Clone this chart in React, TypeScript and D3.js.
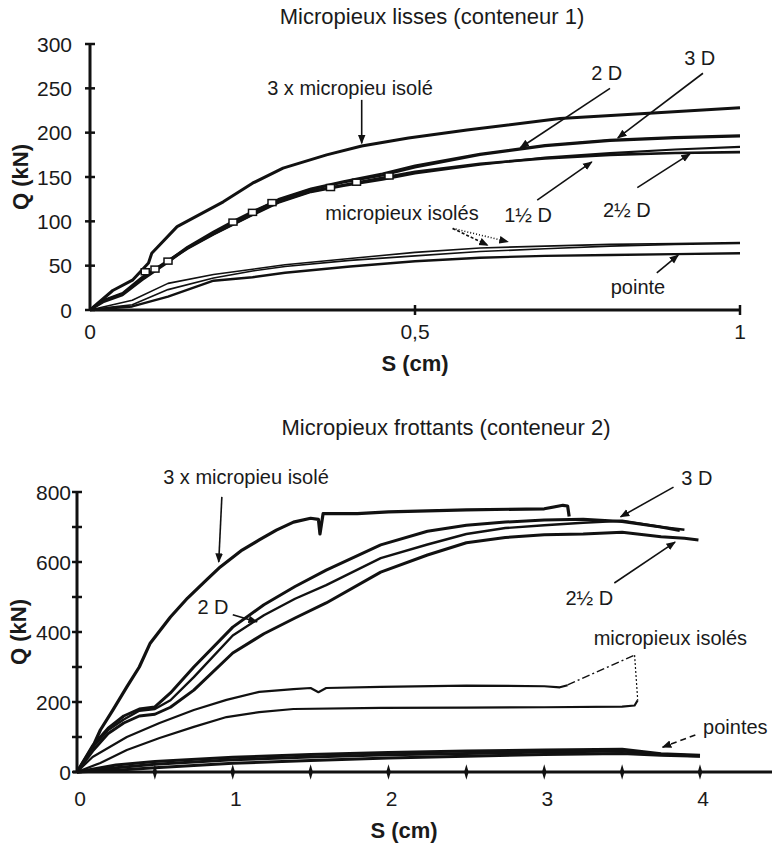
import * as d3 from "d3";
import React from "react";

// ---------- Top chart : Micropieux lisses (conteneur 1) ----------
const topYTicks = [0, 50, 100, 150, 200, 250, 300];
const topXTicks = [0, 0.5, 1];
const topXTickLabels = ["0", "0,5", "1"];

const top3xS = [0, 0.035, 0.066, 0.09, 0.095, 0.134, 0.205, 0.25, 0.297, 0.364, 0.418, 0.49, 0.58, 0.723, 0.86, 1.0];
const top3xQ = [0, 22, 34, 53, 64, 94, 122, 143, 160, 175, 185, 194, 203, 216, 222, 228];

const topGroupS = [0, 0.02, 0.05, 0.08, 0.12, 0.15, 0.19, 0.22, 0.25, 0.29, 0.34, 0.39, 0.45, 0.5, 0.6, 0.7, 0.8, 0.9, 1.0];
const top2DQ = [0, 10, 18, 35, 55, 71, 88, 100, 111, 124, 136, 144, 152, 161, 175, 185, 191, 194, 196];
const top3DQ = [0, 11, 19, 37, 56, 70, 87, 98, 110, 125, 137, 145, 154, 163, 176, 186, 192, 195, 197];
const top1halfQ = [0, 10, 18, 36, 55, 69, 85, 96, 107, 121, 133, 140, 147, 154, 164, 172, 177, 181, 184];
const top2halfQ = [0, 9, 17, 34, 54, 70, 86, 97, 108, 122, 134, 141, 149, 156, 165, 171, 175, 177, 178];

const topLowS = [0, 0.03, 0.065, 0.12, 0.19, 0.25, 0.3, 0.4, 0.5, 0.6, 0.7, 0.8, 0.9, 1.0];
const topIsoleAQ = [0, 5, 11, 30, 40, 46, 51, 58, 65, 70, 72, 74, 75, 76];
const topIsoleBQ = [0, 3, 6, 23, 36, 44, 49, 56, 61, 66, 69, 72, 74, 75];
const topPointeQ = [0, 2, 4, 15, 33, 37, 42, 49, 55, 59, 61, 62, 63, 64];

// small unloading loops seen on the group curves
const topLoopS = [0.085, 0.1, 0.12, 0.22, 0.25, 0.28, 0.37, 0.41, 0.46];
const topLoopQ = [42, 45, 54, 98, 109, 120, 137, 143, 150];

// ---------- Bottom chart : Micropieux frottants (conteneur 2) ----------
const botYTicks = [0, 200, 400, 600, 800];
const botYMinor = [100, 300, 500, 700];
const botXTicks = [0, 1, 2, 3, 4];
const botXMarks = [0.5, 1, 1.5, 2, 2.5, 3, 3.5, 4];

const bot3xS = [0, 0.1, 0.15, 0.23, 0.32, 0.4, 0.47, 0.6, 0.71, 0.83, 0.92, 1.06, 1.17, 1.28, 1.39, 1.5, 1.55, 1.56, 1.58, 1.8, 2.0, 2.5, 3.0, 3.12, 3.15, 3.16];
const bot3xQ = [0, 71, 120, 177, 243, 300, 368, 443, 497, 548, 586, 634, 663, 691, 714, 725, 722, 680, 738, 738, 743, 749, 752, 762, 760, 730];

const bot2DS = [0, 0.1, 0.2, 0.3, 0.4, 0.5, 0.6, 0.75, 1.0, 1.2, 1.4, 1.6, 1.95, 2.25, 2.5, 2.75, 3.0, 3.25, 3.5, 3.75, 3.87];
const bot2DQ = [0, 75, 125, 160, 180, 186, 226, 300, 414, 478, 530, 577, 649, 688, 705, 714, 720, 722, 716, 700, 690];
const bot3DS = [0, 0.1, 0.2, 0.3, 0.4, 0.5, 0.6, 0.75, 1.0, 1.2, 1.4, 1.6, 1.95, 2.25, 2.5, 2.75, 3.0, 3.25, 3.5, 3.75, 3.9];
const bot3DQ = [0, 70, 120, 150, 175, 180, 205, 271, 390, 448, 495, 534, 611, 650, 680, 697, 705, 712, 718, 700, 692];
const bot2halfS = [0, 0.1, 0.2, 0.3, 0.4, 0.5, 0.6, 0.75, 1.0, 1.2, 1.4, 1.6, 1.95, 2.25, 2.5, 2.75, 3.0, 3.25, 3.5, 3.75, 3.9, 3.99];
const bot2halfQ = [0, 60, 110, 140, 160, 165, 185, 234, 340, 395, 440, 483, 571, 620, 655, 670, 678, 680, 685, 672, 668, 663];

const botIsoleAS = [0, 0.1, 0.32, 0.53, 0.75, 0.96, 1.17, 1.39, 1.5, 1.55, 1.6, 1.95, 2.5, 3.0, 3.1, 3.15];
const botIsoleAQ = [0, 43, 100, 140, 177, 206, 229, 237, 240, 228, 240, 243, 247, 245, 242, 248];
const botIsoleBS = [0, 0.15, 0.32, 0.53, 0.75, 0.96, 1.17, 1.39, 1.95, 2.5, 3.0, 3.5, 3.58, 3.6];
const botIsoleBQ = [0, 26, 63, 97, 129, 157, 171, 180, 183, 184, 185, 187, 190, 205];

const botPointeS = [0, 0.25, 0.5, 1, 1.5, 2, 2.5, 3, 3.5, 3.75, 4.0];
const botPointe1Q = [0, 20, 30, 42, 50, 56, 60, 63, 65, 52, 48];
const botPointe2Q = [0, 12, 22, 35, 43, 49, 53, 57, 60, 50, 46];
const botPointe3Q = [0, 5, 12, 25, 33, 40, 45, 50, 53, 48, 45];

// annotations, in data units
type Note = { text: string; s: number; q: number; from?: [number, number]; to?: [number, number]; dash?: string; anchor?: string };
const topNotes: Note[] = [
  { text: "3 x micropieu isolé", s: 0.4, q: 250, from: [0.418, 237], to: [0.418, 188] },
  { text: "2 D", s: 0.795, q: 267, from: [0.8, 250], to: [0.662, 183] },
  { text: "3 D", s: 0.938, q: 284, from: [0.943, 267], to: [0.812, 194] },
  { text: "1½ D", s: 0.674, q: 107, from: [0.688, 124], to: [0.772, 167] },
  { text: "2½ D", s: 0.826, q: 113, from: [0.842, 138], to: [0.923, 176] },
  { text: "micropieux isolés", s: 0.48, q: 109, from: [0.558, 92], to: [0.612, 73], dash: "3,2" },
  { text: "", s: 0, q: 0, from: [0.558, 92], to: [0.643, 77], dash: "1,2" },
  { text: "pointe", s: 0.843, q: 26, from: [0.872, 42], to: [0.905, 62] },
];
const botNotes: Note[] = [
  { text: "3 x micropieu isolé", s: 1.085, q: 843, from: [0.93, 786], to: [0.91, 600] },
  { text: "2 D", s: 0.873, q: 471, from: [1.0, 449], to: [1.156, 429] },
  { text: "3 D", s: 3.98, q: 840, from: [3.83, 814], to: [3.49, 729] },
  { text: "2½ D", s: 3.29, q: 497, from: [3.45, 540], to: [3.84, 657] },
  { text: "micropieux isolés", s: 3.81, q: 383 },
  { text: "pointes", s: 4.02, q: 129, from: [3.97, 106], to: [3.76, 71], dash: "6,4", anchor: "start" },
];
const botLeaderS = [3.15, 3.58, 3.6];
const botLeaderQ = [249, 334, 206];

const FONT = "'Liberation Sans', Arial, sans-serif";
const INK = "#111";

const topX = d3.scaleLinear().domain([0, 1]).range([90, 740]);
const topY = d3.scaleLinear().domain([0, 300]).range([310, 44]);
const botX = d3.scaleLinear().domain([0, 4]).range([77, 700]);
const botY = d3.scaleLinear().domain([0, 800]).range([772, 492]);

type Sc = d3.ScaleLinear<number, number>;

function curve(x: Sc, y: Sc, s: number[], q: number[]) {
  const pts = s.map((v, i) => [v, q[i]] as [number, number]);
  return d3.line<[number, number]>().x((d) => x(d[0])).y((d) => y(d[1])).curve(d3.curveLinear)(pts) || "";
}

function Notes({ notes, x, y, id }: { notes: Note[]; x: Sc; y: Sc; id: string }) {
  return (
    <g fontFamily={FONT} fontSize={20} fill="#1a1a1a">
      {notes.map((n, i) => (
        <g key={i}>
          {n.text && (
            <text x={x(n.s)} y={y(n.q)} textAnchor={n.anchor || "middle"} dominantBaseline="central">
              {n.text}
            </text>
          )}
          {n.from && n.to && (
            <line
              x1={x(n.from[0])}
              y1={y(n.from[1])}
              x2={x(n.to[0])}
              y2={y(n.to[1])}
              stroke={INK}
              strokeWidth={1.6}
              strokeDasharray={n.dash}
              markerEnd={`url(#${id})`}
            />
          )}
        </g>
      ))}
    </g>
  );
}

export default function App() {
  const diamond = d3.symbol().type(d3.symbolDiamond).size(36)() || "";
  return (
    <svg width={772} height={843} style={{ position: "absolute", left: 0, top: 0, background: "#fff" }}>
      <defs>
        <marker id="arrTop" viewBox="0 0 10 10" refX="9" refY="5" markerWidth="6" markerHeight="6" orient="auto">
          <path d="M0,1 L10,5 L0,9 z" fill={INK} />
        </marker>
        <marker id="arrBot" viewBox="0 0 10 10" refX="9" refY="5" markerWidth="6" markerHeight="6" orient="auto">
          <path d="M0,1 L10,5 L0,9 z" fill={INK} />
        </marker>
      </defs>

      {/* ---------- Top chart ---------- */}
      <text x={432} y={16} textAnchor="middle" dominantBaseline="central" fontFamily={FONT} fontSize={22} fill="#1a1a1a">
        Micropieux lisses (conteneur 1)
      </text>
      <g fill="none" stroke={INK} strokeLinejoin="round">
        <path d={curve(topX, topY, top3xS, top3xQ)} strokeWidth={3} />
        <path d={curve(topX, topY, topGroupS, top2DQ)} strokeWidth={2.6} />
        <path d={curve(topX, topY, topGroupS, top3DQ)} strokeWidth={2.2} />
        <path d={curve(topX, topY, topGroupS, top1halfQ)} strokeWidth={2.2} />
        <path d={curve(topX, topY, topGroupS, top2halfQ)} strokeWidth={2.6} />
        <path d={curve(topX, topY, topLowS, topIsoleAQ)} strokeWidth={1.6} />
        <path d={curve(topX, topY, topLowS, topIsoleBQ)} strokeWidth={1.6} />
        <path d={curve(topX, topY, topLowS, topPointeQ)} strokeWidth={2.4} />
      </g>
      <g fill="#fff" stroke={INK} strokeWidth={1.5}>
        {topLoopS.map((s, i) => (
          <rect key={i} x={topX(s) - 4} y={topY(topLoopQ[i]) - 4} width={8} height={6} />
        ))}
      </g>
      {/* axes */}
      <g stroke={INK}>
        <line x1={topX(0)} x2={topX(0)} y1={topY(0)} y2={topY(300)} strokeWidth={3} />
        <line x1={topX(0)} x2={topX(1)} y1={topY(0)} y2={topY(0)} strokeWidth={3} />
        {topYTicks.map((t) => (
          <line key={t} x1={topX(0) - 5} x2={topX(0) + 5} y1={topY(t)} y2={topY(t)} strokeWidth={2.5} />
        ))}
        {topXTicks.slice(1).map((t) => (
          <line key={t} x1={topX(t)} x2={topX(t)} y1={topY(0) - 5} y2={topY(0) + 5} strokeWidth={2.5} />
        ))}
      </g>
      <g fontFamily={FONT} fontSize={21} fill="#1a1a1a">
        {topYTicks.map((t) => (
          <text key={t} x={topX(0) - 18} y={topY(t)} textAnchor="end" dominantBaseline="central">
            {t}
          </text>
        ))}
        {topXTicks.map((t, i) => (
          <text key={t} x={topX(t)} y={331} textAnchor="middle" dominantBaseline="central">
            {topXTickLabels[i]}
          </text>
        ))}
        <text x={415} y={363} textAnchor="middle" dominantBaseline="central" fontWeight="bold" fontSize={22}>
          S (cm)
        </text>
        <text
          transform={`translate(20,${topY(150)}) rotate(-90)`}
          textAnchor="middle"
          dominantBaseline="central"
          fontWeight="bold"
          fontSize={22}
        >
          Q (kN)
        </text>
      </g>
      <Notes notes={topNotes} x={topX} y={topY} id="arrTop" />

      {/* ---------- Bottom chart ---------- */}
      <text x={446} y={427} textAnchor="middle" dominantBaseline="central" fontFamily={FONT} fontSize={22} fill="#1a1a1a">
        Micropieux frottants (conteneur 2)
      </text>
      <g fill="none" stroke={INK} strokeLinejoin="round">
        <path d={curve(botX, botY, bot3xS, bot3xQ)} strokeWidth={3.2} />
        <path d={curve(botX, botY, bot2DS, bot2DQ)} strokeWidth={3} />
        <path d={curve(botX, botY, bot3DS, bot3DQ)} strokeWidth={2.4} />
        <path d={curve(botX, botY, bot2halfS, bot2halfQ)} strokeWidth={3} />
        <path d={curve(botX, botY, botIsoleAS, botIsoleAQ)} strokeWidth={2.2} />
        <path d={curve(botX, botY, botIsoleBS, botIsoleBQ)} strokeWidth={2.2} />
        <path d={curve(botX, botY, botPointeS, botPointe1Q)} strokeWidth={3} />
        <path d={curve(botX, botY, botPointeS, botPointe2Q)} strokeWidth={3} />
        <path d={curve(botX, botY, botPointeS, botPointe3Q)} strokeWidth={3} />
      </g>
      {/* axes */}
      <g stroke={INK}>
        <line x1={botX(0)} x2={botX(0)} y1={botY(0)} y2={botY(800)} strokeWidth={3} />
        <line x1={botX(0) - 4} x2={772} y1={botY(0)} y2={botY(0)} strokeWidth={3} />
        {botYTicks.concat(botYMinor).map((t) => (
          <line key={t} x1={botX(0) - 5} x2={botX(0) + 5} y1={botY(t)} y2={botY(t)} strokeWidth={2.5} />
        ))}
      </g>
      <g fill={INK}>
        {botXMarks.map((t) => (
          <path key={t} d={diamond} transform={`translate(${botX(t)},${botY(0)}) scale(0.7,1.4)`} />
        ))}
      </g>
      <g fontFamily={FONT} fontSize={21} fill="#1a1a1a">
        {botYTicks.map((t) => (
          <text key={t} x={botX(0) - 6} y={botY(t)} textAnchor="end" dominantBaseline="central">
            {t}
          </text>
        ))}
        {botXTicks.map((t) => (
          <text key={t} x={botX(t) + 3} y={798} textAnchor="middle" dominantBaseline="central">
            {t}
          </text>
        ))}
        <text x={404} y={830} textAnchor="middle" dominantBaseline="central" fontWeight="bold" fontSize={22}>
          S (cm)
        </text>
        <text
          transform={`translate(18,${botY(400)}) rotate(-90)`}
          textAnchor="middle"
          dominantBaseline="central"
          fontWeight="bold"
          fontSize={22}
        >
          Q (kN)
        </text>
      </g>
      <Notes notes={botNotes} x={botX} y={botY} id="arrBot" />
      <path
        d={curve(botX, botY, botLeaderS.slice(0, 2), botLeaderQ.slice(0, 2))}
        fill="none"
        stroke={INK}
        strokeWidth={1.5}
        strokeDasharray="8,3,2,3"
      />
      <path
        d={curve(botX, botY, botLeaderS.slice(1), botLeaderQ.slice(1))}
        fill="none"
        stroke={INK}
        strokeWidth={1.2}
        strokeDasharray="2,2"
      />
    </svg>
  );
}
